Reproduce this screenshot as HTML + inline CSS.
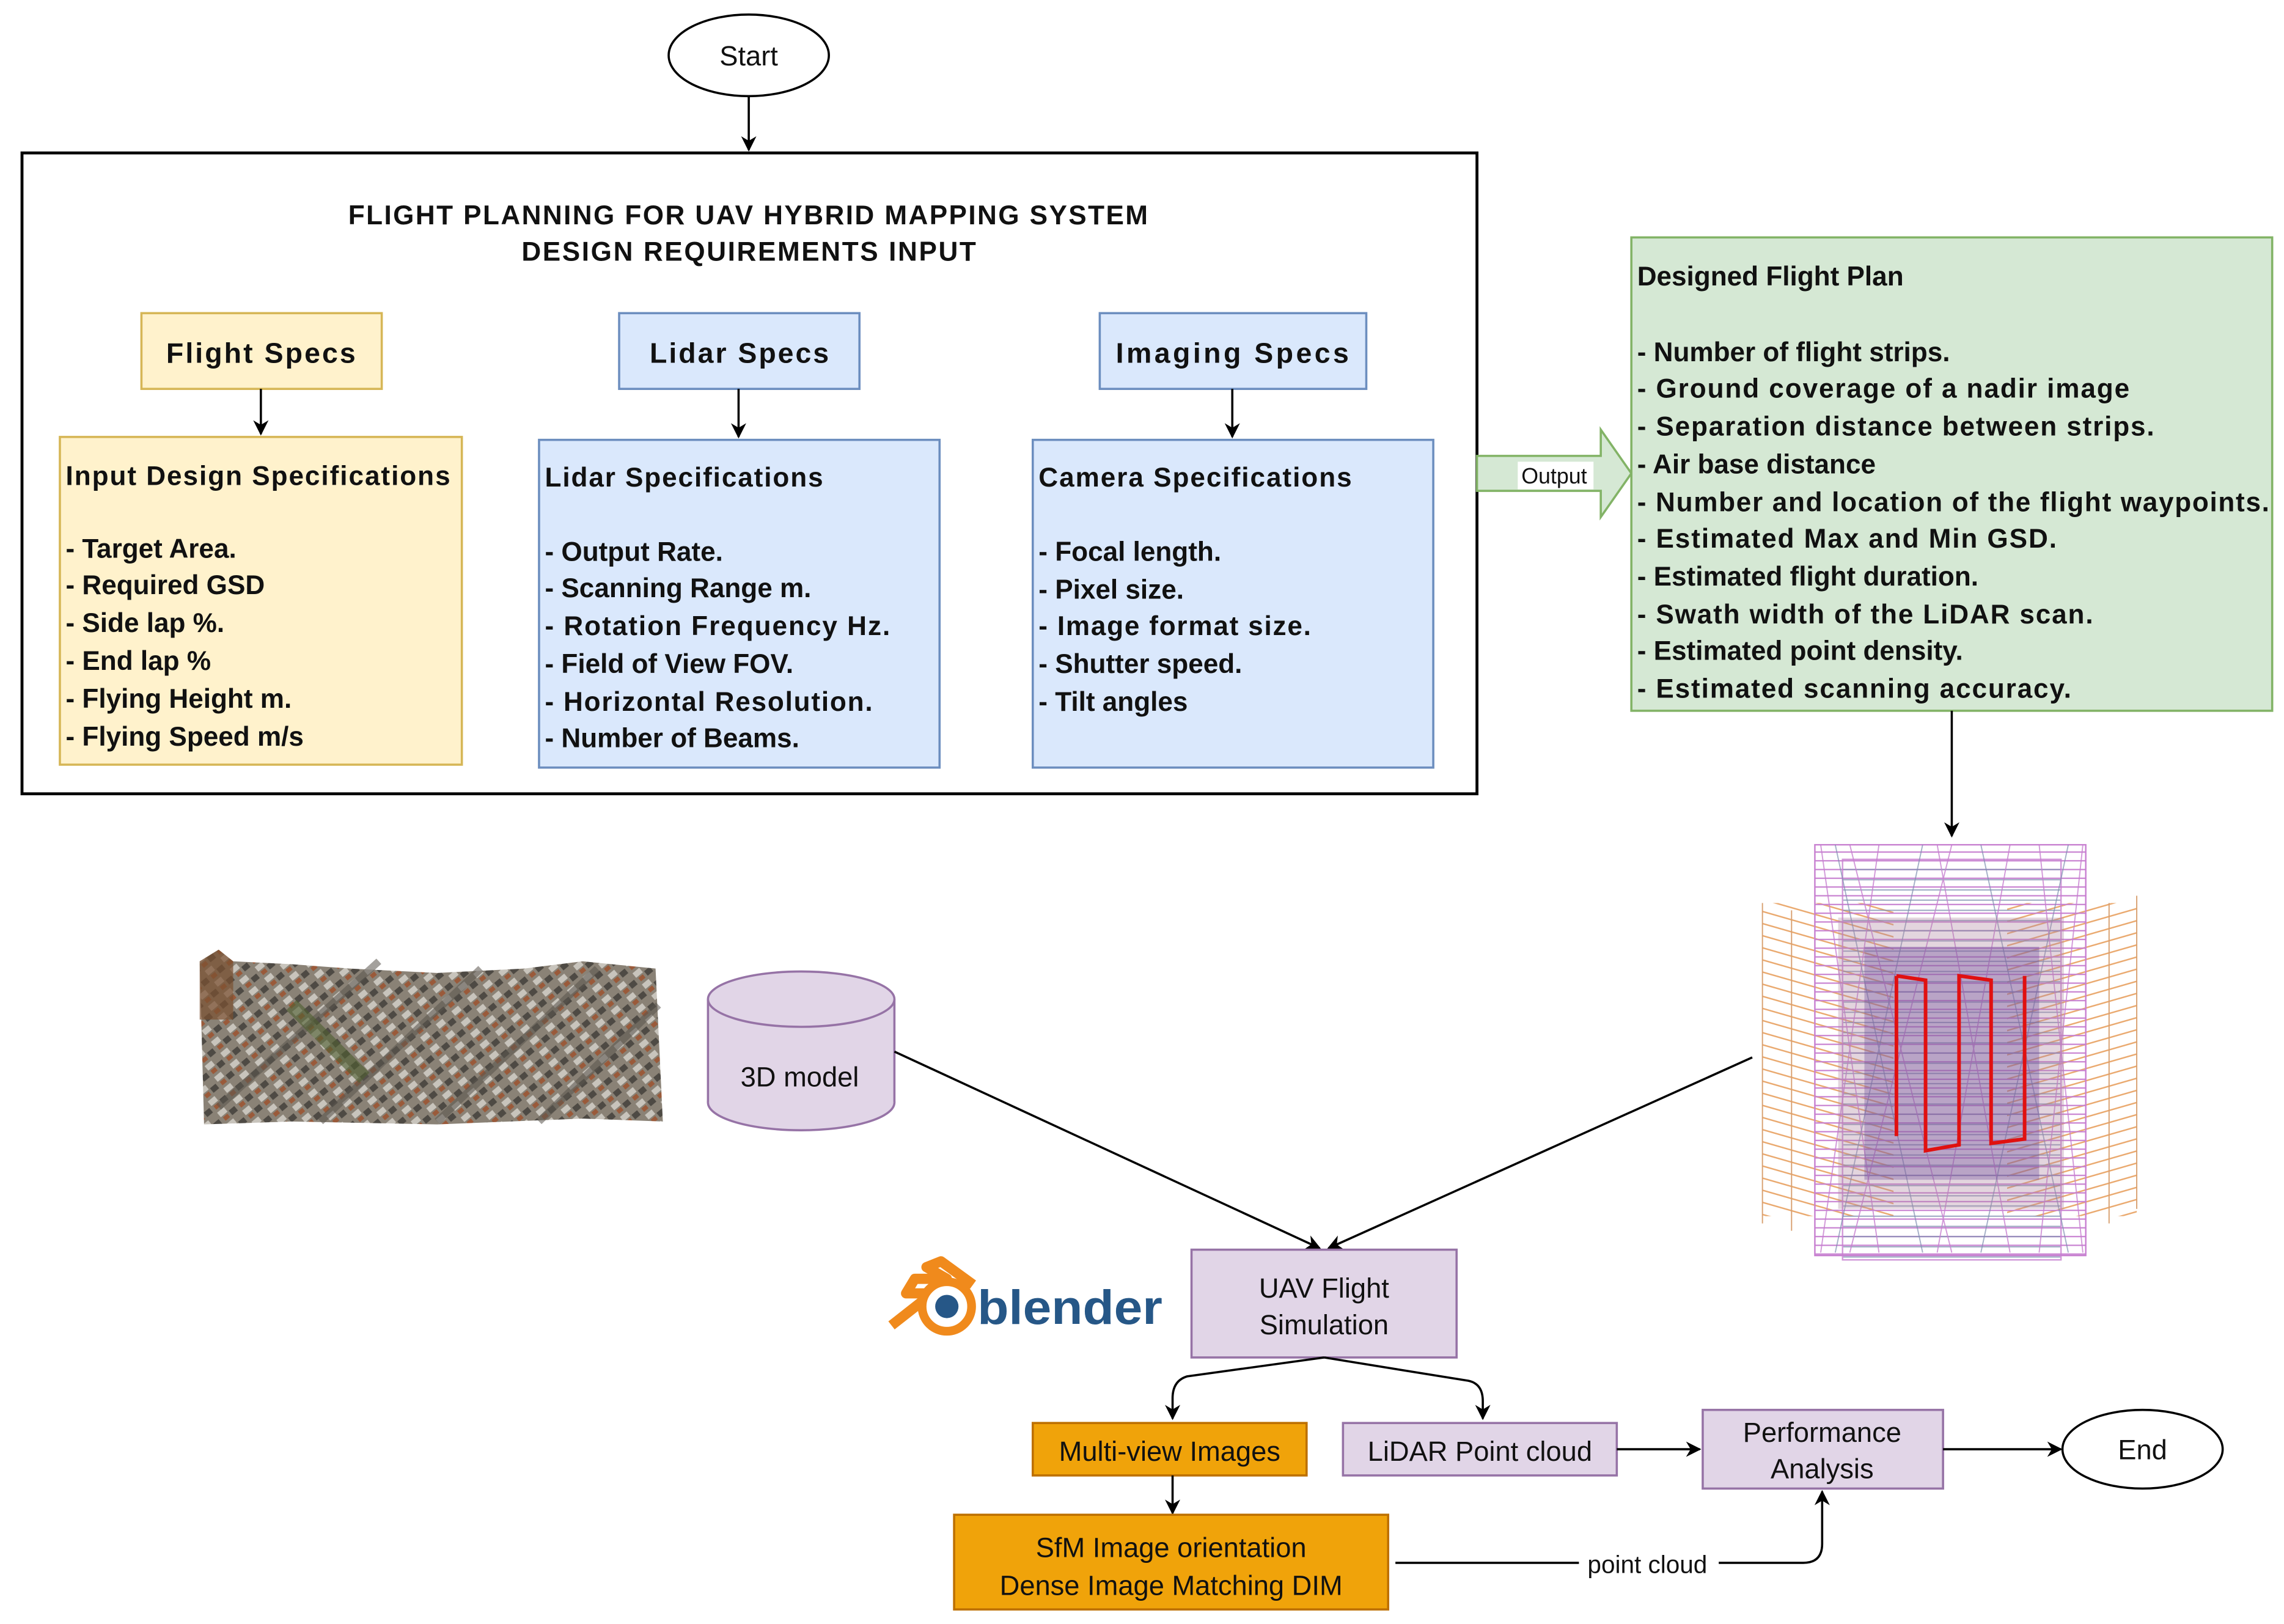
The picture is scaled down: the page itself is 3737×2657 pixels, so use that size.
<!DOCTYPE html>
<html><head><meta charset="utf-8"><style>
html,body{margin:0;padding:0;background:#fff;}
svg{display:block;}
text{font-family:"Liberation Sans",Arial,sans-serif;fill:#111;}
.b{font-weight:bold;font-size:18.5px;}
.n{font-size:19px;}
</style></head><body>
<svg width="3737" height="2657" viewBox="0 0 1568 1115" xmlns="http://www.w3.org/2000/svg">
<defs>
<marker id="ar" viewBox="0 0 10 10" refX="9" refY="5" markerWidth="7" markerHeight="7" orient="auto"><path d="M0,0 L10,5 L0,10 L3,5 z" fill="#000"/></marker>
<linearGradient id="cg" x1="0" y1="0" x2="1" y2="1"><stop offset="0" stop-color="#7a6a58"/><stop offset="0.5" stop-color="#8e887e"/><stop offset="1" stop-color="#6a6258"/></linearGradient>
<pattern id="hz" width="6" height="6" patternUnits="userSpaceOnUse"><path d="M0,3H6" stroke="#c77fd0" stroke-width="0.9"/></pattern>
<pattern id="hz2" width="7" height="7" patternUnits="userSpaceOnUse"><path d="M0,2H7" stroke="#7f8fb0" stroke-width="0.8"/></pattern>
<pattern id="og" width="8" height="8" patternUnits="userSpaceOnUse" patternTransform="rotate(16)"><path d="M0,4H8" stroke="#e8a060" stroke-width="1"/></pattern>
<pattern id="og2" width="8" height="8" patternUnits="userSpaceOnUse" patternTransform="rotate(-16)"><path d="M0,4H8" stroke="#e8a060" stroke-width="1"/></pattern>
<pattern id="bld" width="14" height="10" patternUnits="userSpaceOnUse" patternTransform="rotate(-40)"><rect width="14" height="10" fill="#8a8276"/><rect x="1" y="1" width="6" height="4" fill="#c8c4bc"/><rect x="8" y="5" width="5" height="4" fill="#4e4a44"/><rect x="2" y="6" width="4" height="3" fill="#9a5a3a"/></pattern>
</defs>
<rect width="1568" height="1115" fill="#fff"/>
<ellipse cx="514" cy="38" rx="55" ry="28" fill="#fff" stroke="#000" stroke-width="1.5"/>
<text x="514" y="45" class="n" text-anchor="middle">Start</text>
<line x1="514" y1="66" x2="514" y2="103" stroke="#000" stroke-width="1.5" marker-end="url(#ar)"/>
<rect x="15" y="105" width="999" height="440" fill="#fff" stroke="#000" stroke-width="2"/>
<text x="239" y="154" class="b" textLength="549">FLIGHT PLANNING FOR UAV HYBRID MAPPING SYSTEM</text>
<text x="358" y="179" class="b" textLength="312">DESIGN REQUIREMENTS INPUT</text>
<rect x="97" y="215" width="165" height="52" fill="#fff2cc" stroke="#d6b656" stroke-width="1.5"/>
<text x="114" y="249" class="b" style="font-size:19.5px" textLength="130">Flight Specs</text>
<rect x="425" y="215" width="165" height="52" fill="#dae8fc" stroke="#6c8ebf" stroke-width="1.5"/>
<text x="446" y="249" class="b" style="font-size:19.5px" textLength="123">Lidar Specs</text>
<rect x="755" y="215" width="183" height="52" fill="#dae8fc" stroke="#6c8ebf" stroke-width="1.5"/>
<text x="766" y="249" class="b" style="font-size:19.5px" textLength="160">Imaging  Specs</text>
<line x1="179" y1="267" x2="179" y2="298" stroke="#000" stroke-width="1.5" marker-end="url(#ar)"/>
<line x1="507" y1="267" x2="507" y2="300" stroke="#000" stroke-width="1.5" marker-end="url(#ar)"/>
<line x1="846" y1="267" x2="846" y2="300" stroke="#000" stroke-width="1.5" marker-end="url(#ar)"/>
<rect x="41" y="300" width="276" height="225" fill="#fff2cc" stroke="#d6b656" stroke-width="1.5"/>
<g class="b"><text x="45" y="333" textLength="264">Input Design Specifications</text>
<text x="45" y="383">- Target Area.</text><text x="45" y="408">- Required GSD</text><text x="45" y="434">- Side lap %.</text><text x="45" y="460">- End lap %</text><text x="45" y="486">- Flying Height m.</text><text x="45" y="512">- Flying Speed m/s</text></g>
<rect x="370" y="302" width="275" height="225" fill="#dae8fc" stroke="#6c8ebf" stroke-width="1.5"/>
<g class="b"><text x="374" y="334" textLength="191">Lidar Specifications</text>
<text x="374" y="385">- Output Rate.</text><text x="374" y="410">- Scanning Range m.</text><text x="374" y="436" textLength="237">- Rotation Frequency Hz.</text><text x="374" y="462">- Field of View FOV.</text><text x="374" y="488" textLength="225">- Horizontal Resolution.</text><text x="374" y="513">- Number of Beams.</text></g>
<rect x="709" y="302" width="275" height="225" fill="#dae8fc" stroke="#6c8ebf" stroke-width="1.5"/>
<g class="b"><text x="713" y="334" textLength="215">Camera Specifications</text>
<text x="713" y="385">- Focal length.</text><text x="713" y="411">- Pixel size.</text><text x="713" y="436" textLength="187">- Image format size.</text><text x="713" y="462">- Shutter speed.</text><text x="713" y="488">- Tilt angles</text></g>
<path d="M1014,313 L1099,313 L1099,295 L1120,325 L1099,355 L1099,337 L1014,337 Z" fill="#d5e8d4" stroke="#82b366" stroke-width="1.5"/>
<rect x="1042" y="317" width="52" height="19" fill="#fff"/>
<text x="1067" y="332" text-anchor="middle" style="font-size:15px">Output</text>
<rect x="1120" y="163" width="440" height="325" fill="#d5e8d4" stroke="#82b366" stroke-width="1.5"/>
<g class="b"><text x="1124" y="196">Designed Flight Plan</text>
<text x="1124" y="248">- Number of flight strips.</text>
<text x="1124" y="273" textLength="338">- Ground coverage of a nadir image</text>
<text x="1124" y="299" textLength="355">- Separation distance between strips.</text>
<text x="1124" y="325">- Air base distance</text>
<text x="1124" y="351" textLength="434">- Number and location of the flight waypoints.</text>
<text x="1124" y="376" textLength="288">- Estimated Max and Min GSD.</text>
<text x="1124" y="402">- Estimated flight duration.</text>
<text x="1124" y="428" textLength="313">- Swath width of the LiDAR scan.</text>
<text x="1124" y="453">- Estimated point density.</text>
<text x="1124" y="479" textLength="298">- Estimated scanning accuracy.</text></g>
<line x1="1340" y1="488" x2="1340" y2="574" stroke="#000" stroke-width="1.5" marker-end="url(#ar)"/>
<!-- point cloud graphic -->
<rect x="1210" y="620" width="90" height="215" fill="url(#og)" opacity="0.9"/>
<rect x="1378" y="620" width="89" height="215" fill="url(#og2)" opacity="0.9"/>
<rect x="1246" y="580" width="186" height="282" fill="url(#hz)" stroke="#c77fd0"/>
<rect x="1265" y="590" width="150" height="275" fill="url(#hz2)" stroke="#c77fd0" opacity="0.8"/>
<g fill="none" stroke-width="0.8">
<g stroke="#c77fd0" opacity="0.8">
<path d="M1250,580L1290,860M1290,580L1250,860M1330,580L1380,860M1380,580L1330,860M1400,580L1430,860M1430,580L1400,860M1270,580L1340,860M1340,580L1270,860"/>
</g>
<g stroke="#7f8fb0" opacity="0.7">
<path d="M1260,580L1320,860M1320,580L1260,860M1360,580L1420,860M1420,580L1360,860"/>
</g>
<path d="M1210,620V840M1230,625V845M1448,620V840M1467,615V830" stroke="#d8a070"/>
</g>
<rect x="1262" y="630" width="155" height="200" fill="#b088a0" opacity="0.35"/>
<rect x="1280" y="650" width="120" height="160" fill="#6a4a9a" opacity="0.35"/>
<path d="M1302,670V780M1302,670L1322,673V790L1345,786V670L1367,673V785L1390,782V670" fill="none" stroke="#e01010" stroke-width="2.5"/>
<!-- city image -->
<path d="M137,660 L150,652 L160,660 L200,662 L240,665 L300,668 L360,665 L400,660 L450,665 L455,770 L400,768 L300,772 L200,770 L140,772 Z" fill="url(#bld)"/>
<g stroke-width="5" opacity="0.55">
<path d="M150,760L260,660M220,770L330,665M300,770L410,665M370,770L452,690" stroke="#5a554e"/>
</g>
<path d="M200,690L250,740" stroke="#4e5e30" stroke-width="10" opacity="0.6"/>
<path d="M137,660 L150,652 L160,660 L160,700 L137,700Z" fill="#7a5030" opacity="0.7"/>
<ellipse cx="550" cy="757" rx="64" ry="19" fill="#e1d5e7" stroke="#9673a6" stroke-width="1.5"/>
<rect x="486" y="686" width="128" height="71" fill="#e1d5e7"/>
<line x1="486" y1="686" x2="486" y2="757" stroke="#9673a6" stroke-width="1.5"/>
<line x1="614" y1="686" x2="614" y2="757" stroke="#9673a6" stroke-width="1.5"/>
<ellipse cx="550" cy="686" rx="64" ry="19" fill="#e1d5e7" stroke="#9673a6" stroke-width="1.5"/>
<text x="549" y="746" class="n" text-anchor="middle">3D model</text>
<line x1="614" y1="722" x2="906" y2="857" stroke="#000" stroke-width="1.5" marker-end="url(#ar)"/>
<line x1="1203" y1="726" x2="912" y2="857" stroke="#000" stroke-width="1.5" marker-end="url(#ar)"/>
<g>
<path d="M612,910 L640,888 L622,888 L628,878 L650,878 L636,870 L646,866 L668,882" fill="none" stroke="#f08a1c" stroke-width="7" stroke-linejoin="round"/>
<circle cx="650" cy="897" r="17" fill="#fff" stroke="#f08a1c" stroke-width="6"/>
<circle cx="650" cy="897" r="8" fill="#265787"/>
<text x="671" y="909" style="font-size:33px;font-weight:bold;fill:#265787" textLength="127" lengthAdjust="spacingAndGlyphs">blender</text>
</g>
<rect x="818" y="858" width="182" height="74" fill="#e1d5e7" stroke="#9673a6" stroke-width="1.5"/>
<text x="909" y="891" class="n" text-anchor="middle">UAV Flight</text>
<text x="909" y="916" class="n" text-anchor="middle">Simulation</text>
<path d="M909,932 L815,945 Q805,948 805,960 L805,974" fill="none" stroke="#000" stroke-width="1.5" marker-end="url(#ar)"/>
<path d="M909,932 L1008,948 Q1018,950 1018,962 L1018,974" fill="none" stroke="#000" stroke-width="1.5" marker-end="url(#ar)"/>
<rect x="709" y="977" width="188" height="36" fill="#f0a30a" stroke="#bd7000" stroke-width="1.5"/>
<text x="803" y="1003" class="n" text-anchor="middle">Multi-view Images</text>
<rect x="922" y="977" width="188" height="36" fill="#e1d5e7" stroke="#9673a6" stroke-width="1.5"/>
<text x="1016" y="1003" class="n" text-anchor="middle">LiDAR Point cloud</text>
<line x1="1110" y1="995" x2="1167" y2="995" stroke="#000" stroke-width="1.5" marker-end="url(#ar)"/>
<rect x="1169" y="968" width="165" height="54" fill="#e1d5e7" stroke="#9673a6" stroke-width="1.5"/>
<text x="1251" y="990" class="n" text-anchor="middle">Performance</text>
<text x="1251" y="1015" class="n" text-anchor="middle">Analysis</text>
<line x1="1334" y1="995" x2="1415" y2="995" stroke="#000" stroke-width="1.5" marker-end="url(#ar)"/>
<ellipse cx="1471" cy="995" rx="55" ry="27" fill="#fff" stroke="#000" stroke-width="1.5"/>
<text x="1471" y="1002" class="n" text-anchor="middle">End</text>
<line x1="805" y1="1013" x2="805" y2="1039" stroke="#000" stroke-width="1.5" marker-end="url(#ar)"/>
<rect x="655" y="1040" width="298" height="65" fill="#f0a30a" stroke="#bd7000" stroke-width="1.5"/>
<text x="804" y="1069" class="n" text-anchor="middle">SfM Image orientation</text>
<text x="804" y="1095" class="n" text-anchor="middle">Dense Image Matching DIM</text>
<path d="M958,1073 L1238,1073 Q1251,1073 1251,1060 L1251,1024" fill="none" stroke="#000" stroke-width="1.5" marker-end="url(#ar)"/>
<rect x="1084" y="1063" width="96" height="20" fill="#fff"/>
<text x="1131" y="1080" text-anchor="middle" style="font-size:17px">point cloud</text>
</svg>
</body></html>
